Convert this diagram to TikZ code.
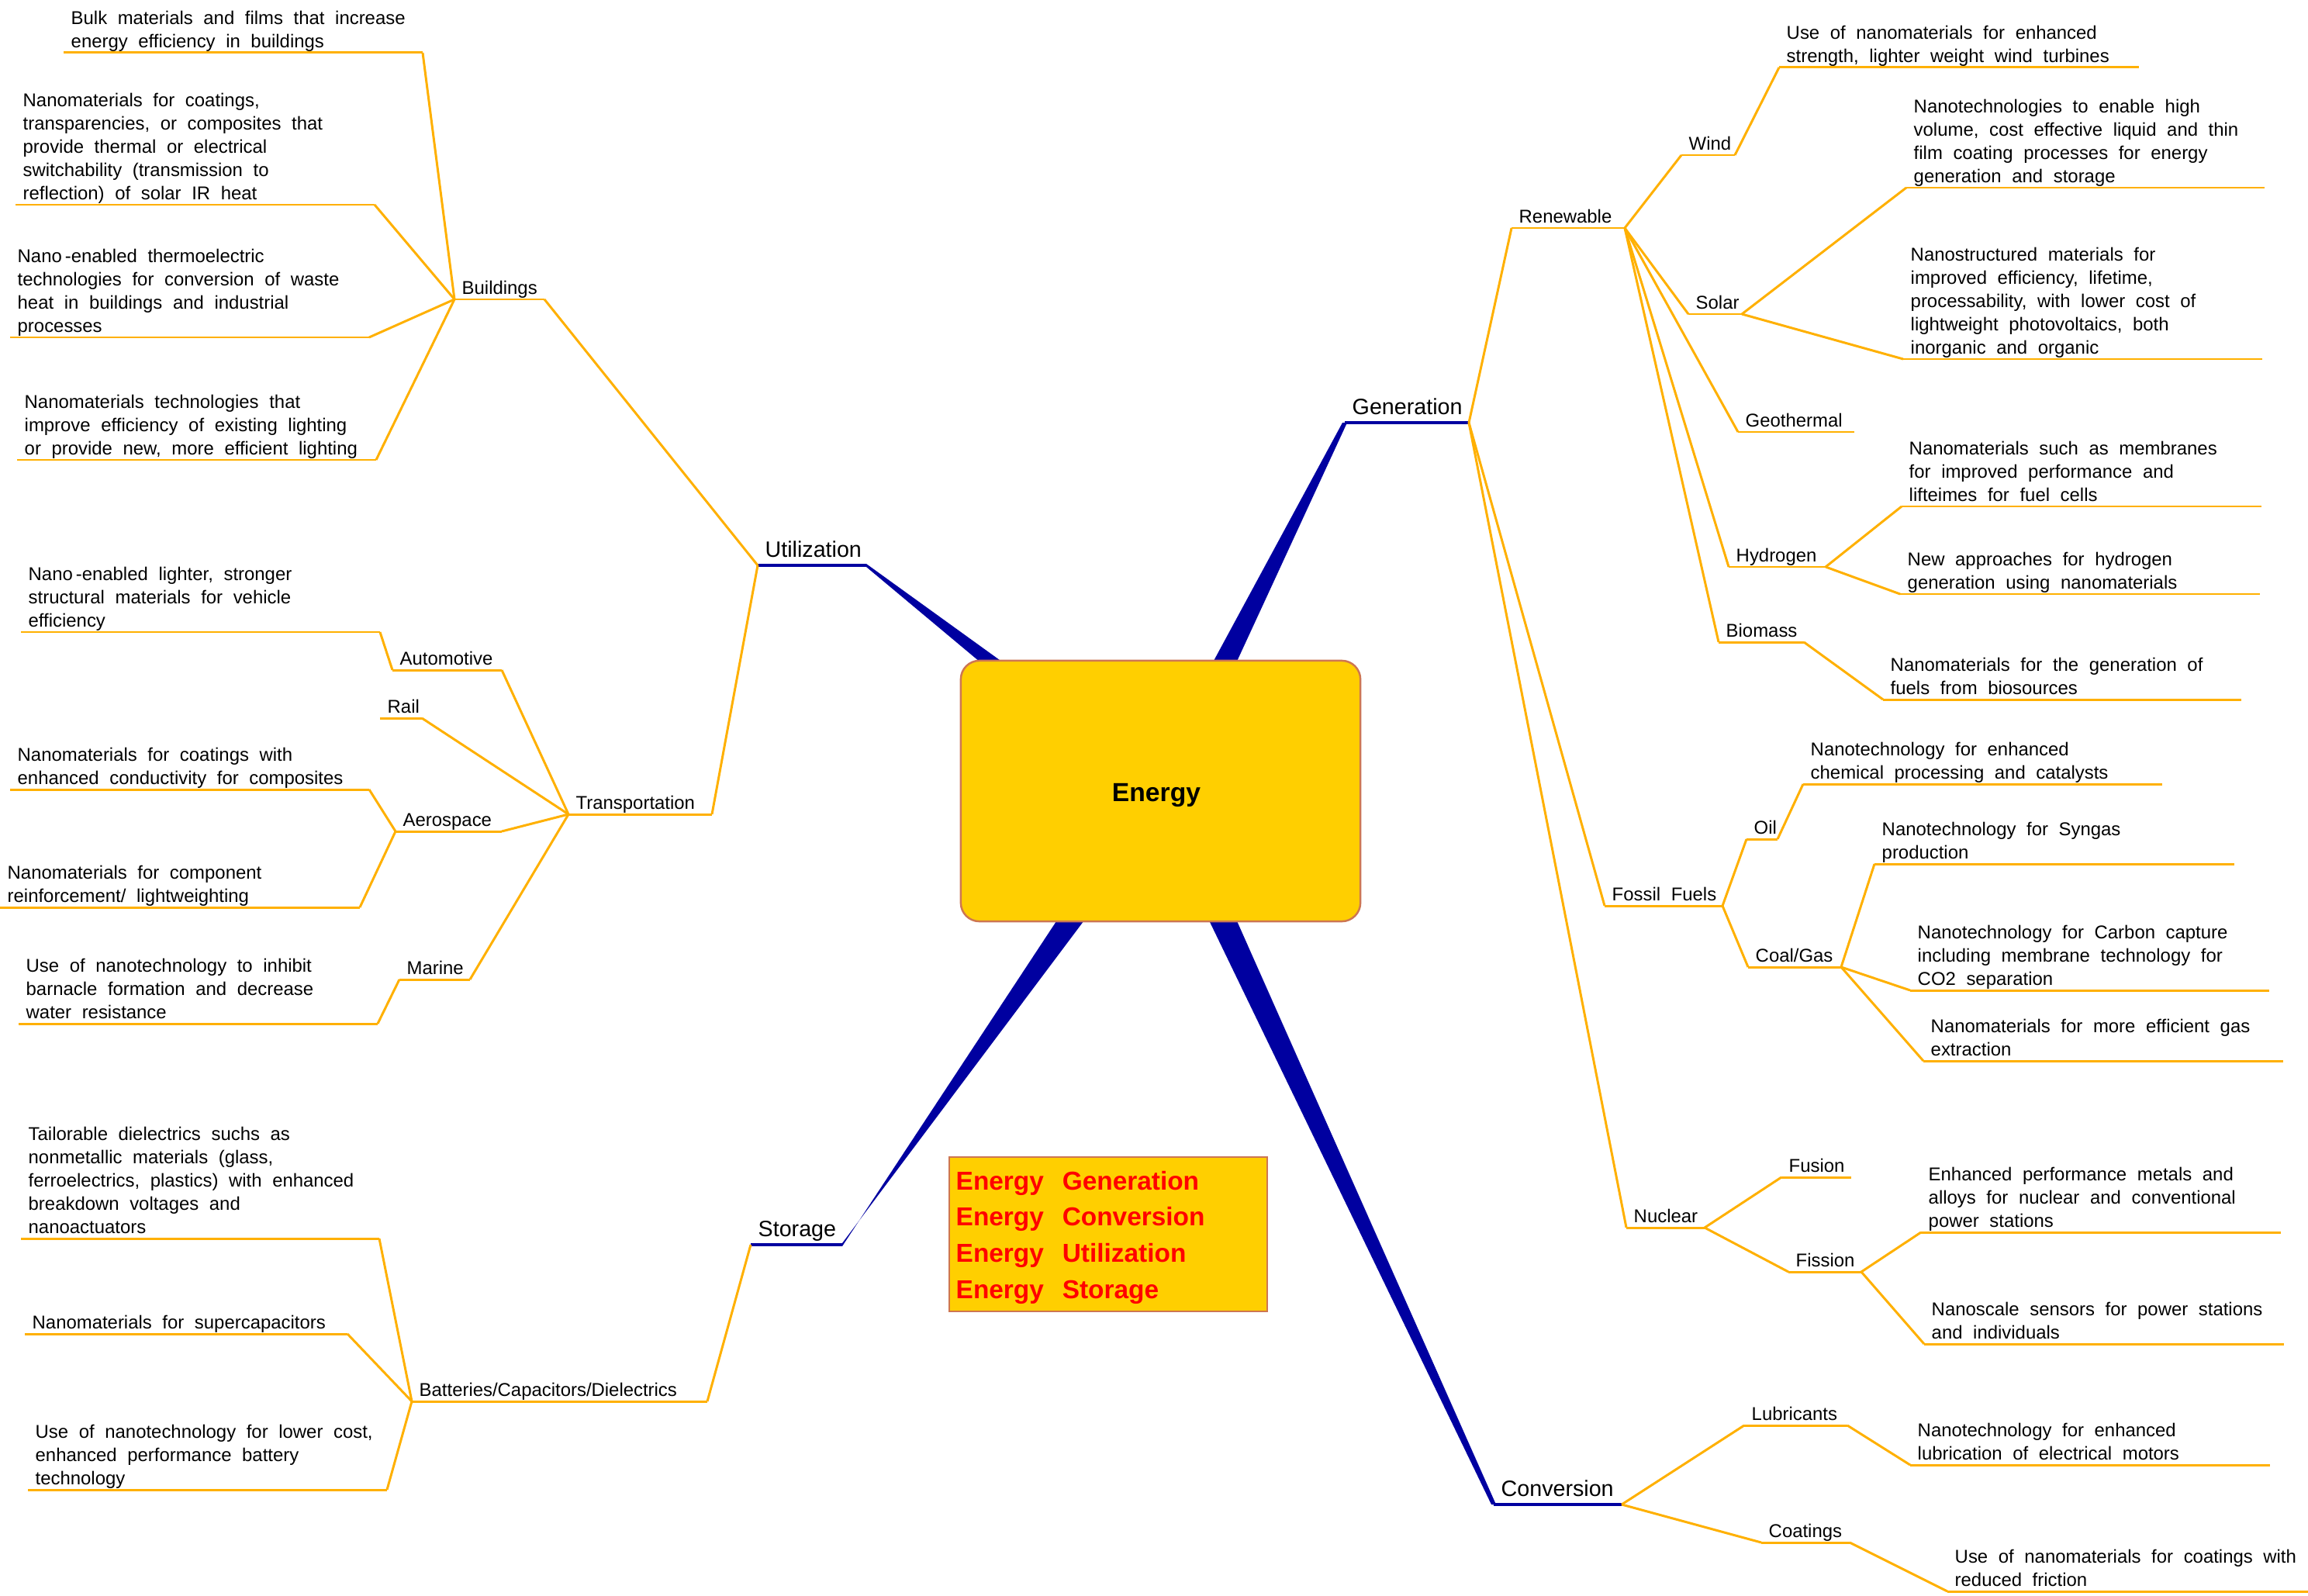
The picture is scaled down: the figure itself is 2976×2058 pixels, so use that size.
\documentclass[tikz,border=0pt]{standalone}
\usepackage{fontspec}
\setmainfont{Liberation Sans}[WordSpace=2.05]
\usetikzlibrary{calc}
\definecolor{boxyellow}{RGB}{255,207,0}
\definecolor{boxborder}{RGB}{205,118,82}
\definecolor{mapblue}{RGB}{0,0,160}
\definecolor{maporange}{RGB}{255,176,0}
\definecolor{legred}{RGB}{255,0,0}
\newcommand{\ulab}[7]{%
  \coordinate (#1L) at (#2,#4);
  \coordinate (#1R) at (#3,#4);
  \draw[#5] (#1L) -- (#1R);
  \node[#6] (#1) at (#2+9,#4) {\begin{tabular}[b]{@{}l@{}}#7\end{tabular}};}
\tikzset{
  oline/.style={draw=maporange, line width=0.85pt},
  bline/.style={draw=mapblue, line width=1pt},
  mainlab/.style={inner sep=0pt, anchor=base west, yshift=3.1pt, font=\fontsize{8.15}{10}\selectfont},
  sublab/.style={inner sep=0pt, anchor=base west, yshift=1.9pt, font=\fontsize{6.8}{8.54}\selectfont},
  leaf/.style={inner sep=0pt, anchor=base west, yshift=1.8pt, font=\fontsize{6.8}{8.54}\selectfont},
  wedge/.style={fill=mapblue, draw=none},
  centerbox/.style={draw=boxborder, fill=boxyellow, line width=0.7pt, rounded corners=0.24cm, minimum width=5.15cm, minimum height=3.36cm, inner sep=0pt},
  centertext/.style={inner sep=0pt, font=\bfseries\fontsize{9.57}{11}\selectfont},
  legendbox/.style={draw=boxborder, fill=boxyellow, line width=0.75pt, minimum width=4.1cm, minimum height=1.99cm, inner sep=0pt},
  legendtext/.style={anchor=base west, inner sep=0pt, font=\bfseries\fontsize{9.5}{13.28}\selectfont, text=legred},
}
\begin{document}
\begin{tikzpicture}[x=0.01cm, y=-0.01cm]
\useasboundingbox (0,0) rectangle (2976,2058);

% ---------- main branch labels ----------
\ulab{util}{977}{1117}{729}{bline}{mainlab}{Utilization}
\ulab{gen}{1734}{1894}{545}{bline}{mainlab}{Generation}
\ulab{stor}{968}{1086}{1605}{bline}{mainlab}{Storage}
\ulab{conv}{1926}{2091}{1940}{bline}{mainlab}{Conversion}

% ---------- wedges ----------
\fill[wedge] ($(utilR)+(0,-2)$) -- (1426,950) -- (1379,950) -- ($(utilR)+(0,2)$) -- cycle;
\fill[wedge] ($(genL)+(-3,0)$) -- ($(genL)+(3,0)$) -- (1550,950) -- (1512,950) -- cycle;
\fill[wedge] ($(storR)+(0,2)$) -- ($(storR)+(0,-2)$) -- (1463,1100) -- (1420,1100) -- cycle;
\fill[wedge] ($(convL)+(-3,0)$) -- ($(convL)+(3,0)$) -- (1556,1100) -- (1517,1100) -- cycle;

% ---------- centre box ----------
\node[centerbox] (energy) at (1496.5,1020) {};
\node[centertext] (energytext) at (1491,1025) {Energy};

% ---------- legend ----------
\node[legendbox] (legend) at (1429,1591.5) {};
\node[legendtext] (legtext) at (1232,1534) {\begin{tabular}[t]{@{}l@{}}%
\makebox[1.37cm][l]{Energy}Generation\\
\makebox[1.37cm][l]{Energy}Conversion\\
\makebox[1.37cm][l]{Energy}Utilization\\
\makebox[1.37cm][l]{Energy}Storage\end{tabular}};

% ---------- Utilization side ----------
\ulab{build}{586}{702}{386}{oline}{sublab}{Buildings}
\ulab{trans}{733}{918}{1050}{oline}{sublab}{Transportation}
\ulab{bul1}{82}{545}{68}{oline}{leaf}{Bulk materials and films that increase\\energy efficiency in buildings}
\ulab{bul2}{20}{483}{264}{oline}{leaf}{Nanomaterials for coatings,\\transparencies, or composites that\\provide thermal or electrical\\switchability (transmission to\\reflection) of solar IR heat}
\ulab{bul3}{13}{476}{435}{oline}{leaf}{Nano\,-enabled thermoelectric\\technologies for conversion of waste\\heat in buildings and industrial\\processes}
\ulab{bul4}{22}{485}{593}{oline}{leaf}{Nanomaterials technologies that\\improve efficiency of existing lighting\\or provide new, more efficient lighting}
\ulab{auto}{506}{647}{864}{oline}{sublab}{Automotive}
\ulab{rail}{490}{544}{926}{oline}{sublab}{Rail}
\ulab{aero}{510}{647}{1072}{oline}{sublab}{Aerospace}
\ulab{mar}{515}{606}{1263}{oline}{sublab}{Marine}
\ulab{auto1}{27}{490}{815}{oline}{leaf}{Nano\,-enabled lighter, stronger\\structural materials for vehicle\\efficiency}
\ulab{aero1}{13}{476}{1018}{oline}{leaf}{Nanomaterials for coatings with\\enhanced conductivity for composites}
\ulab{aero2}{0}{464}{1170}{oline}{leaf}{Nanomaterials for component\\reinforcement/ lightweighting}
\ulab{mar1}{24}{487}{1320}{oline}{leaf}{Use of nanotechnology to inhibit\\barnacle formation and decrease\\water resistance}

\draw[oline] (utilL) -- (buildR);
\draw[oline] (utilL) -- (transR);
\foreach \n in {bul1,bul2,bul3,bul4} \draw[oline] (buildL) -- (\n R);
\foreach \n in {auto,rail,aero,mar} \draw[oline] (transL) -- (\n R);
\draw[oline] (autoL) -- (auto1R);
\draw[oline] (aeroL) -- (aero1R);
\draw[oline] (aeroL) -- (aero2R);
\draw[oline] (marL) -- (mar1R);

% ---------- Storage side ----------
\ulab{bat}{531}{912}{1807}{oline}{sublab}{Batteries/Capacitors/Dielectrics}
\ulab{bat1}{27}{489}{1597}{oline}{leaf}{Tailorable dielectrics suchs as\\nonmetallic materials (glass,\\ferroelectrics, plastics) with enhanced\\breakdown voltages and\\nanoactuators}
\ulab{bat2}{32}{448}{1720}{oline}{leaf}{Nanomaterials for supercapacitors}
\ulab{bat3}{36}{499}{1921}{oline}{leaf}{Use of nanotechnology for lower cost,\\enhanced performance battery\\technology}
\draw[oline] (storL) -- (batR);
\foreach \n in {bat1,bat2,bat3} \draw[oline] (batL) -- (\n R);

% ---------- Generation side ----------
\ulab{ren}{1949}{2095}{294}{oline}{sublab}{Renewable}
\ulab{wind}{2168}{2237}{200}{oline}{sublab}{Wind}
\ulab{solar}{2177}{2246}{405}{oline}{sublab}{Solar}
\ulab{geo}{2241}{2391}{557}{oline}{sublab}{Geothermal}
\ulab{hyd}{2229}{2354}{731}{oline}{sublab}{Hydrogen}
\ulab{bio}{2216}{2326}{828}{oline}{sublab}{Biomass}
\ulab{wind1}{2294}{2758}{87}{oline}{leaf}{Use of nanomaterials for enhanced\\strength, lighter weight wind turbines}
\ulab{sol1}{2458}{2920}{242}{oline}{leaf}{Nanotechnologies to enable high\\volume, cost effective liquid and thin\\film coating processes for energy\\generation and storage}
\ulab{sol2}{2454}{2917}{463}{oline}{leaf}{Nanostructured materials for\\improved efficiency, lifetime,\\processability, with lower cost of\\lightweight photovoltaics, both\\inorganic and organic}
\ulab{hyd1}{2452}{2916}{653}{oline}{leaf}{Nanomaterials such as membranes\\for improved performance and\\lifteimes for fuel cells}
\ulab{hyd2}{2450}{2914}{766}{oline}{leaf}{New approaches for hydrogen\\generation using nanomaterials}
\ulab{bio1}{2428}{2890}{902}{oline}{leaf}{Nanomaterials for the generation of\\fuels from biosources}

\ulab{fos}{2069}{2221}{1168}{oline}{sublab}{Fossil Fuels}
\ulab{oil}{2252}{2292}{1082}{oline}{sublab}{Oil}
\ulab{coal}{2254}{2374}{1247}{oline}{sublab}{Coal/Gas}
\ulab{oil1}{2325}{2788}{1011}{oline}{leaf}{Nanotechnology for enhanced\\chemical processing and catalysts}
\ulab{coal1}{2417}{2881}{1114}{oline}{leaf}{Nanotechnology for Syngas\\production}
\ulab{coal2}{2463}{2926}{1277}{oline}{leaf}{Nanotechnology for Carbon capture\\including membrane technology for\\CO2 separation}
\ulab{coal3}{2480}{2944}{1368}{oline}{leaf}{Nanomaterials for more efficient gas\\extraction}

\ulab{nuc}{2097}{2198}{1583}{oline}{sublab}{Nuclear}
\ulab{fus}{2297}{2387}{1518}{oline}{sublab}{Fusion}
\ulab{fis}{2306}{2400}{1640}{oline}{sublab}{Fission}
\ulab{fis1}{2477}{2941}{1589}{oline}{leaf}{Enhanced performance metals and\\alloys for nuclear and conventional\\power stations}
\ulab{fis2}{2481}{2945}{1733}{oline}{leaf}{Nanoscale sensors for power stations\\and individuals}

\foreach \n in {ren,fos,nuc} \draw[oline] (genR) -- (\n L);
\foreach \n in {wind,solar,geo,hyd,bio} \draw[oline] (renR) -- (\n L);
\draw[oline] (windR) -- (wind1L);
\draw[oline] (solarR) -- (sol1L);
\draw[oline] (solarR) -- (sol2L);
\draw[oline] (hydR) -- (hyd1L);
\draw[oline] (hydR) -- (hyd2L);
\draw[oline] (bioR) -- (bio1L);
\draw[oline] (fosR) -- (oilL);
\draw[oline] (fosR) -- (coalL);
\draw[oline] (oilR) -- (oil1L);
\foreach \n in {coal1,coal2,coal3} \draw[oline] (coalR) -- (\n L);
\draw[oline] (nucR) -- (fusL);
\draw[oline] (nucR) -- (fisL);
\draw[oline] (fisR) -- (fis1L);
\draw[oline] (fisR) -- (fis2L);

% ---------- Conversion side ----------
\ulab{lub}{2249}{2382}{1838}{oline}{sublab}{Lubricants}
\ulab{coat}{2271}{2385}{1989}{oline}{sublab}{Coatings}
\ulab{lub1}{2463}{2927}{1889}{oline}{leaf}{Nanotechnology for enhanced\\lubrication of electrical motors}
\ulab{coat1}{2511}{2976}{2052}{oline}{leaf}{Use of nanomaterials for coatings with\\reduced friction}
\draw[oline] (convR) -- (lubL);
\draw[oline] (convR) -- (coatL);
\draw[oline] (lubR) -- (lub1L);
\draw[oline] (coatR) -- (coat1L);
\end{tikzpicture}
\end{document}
